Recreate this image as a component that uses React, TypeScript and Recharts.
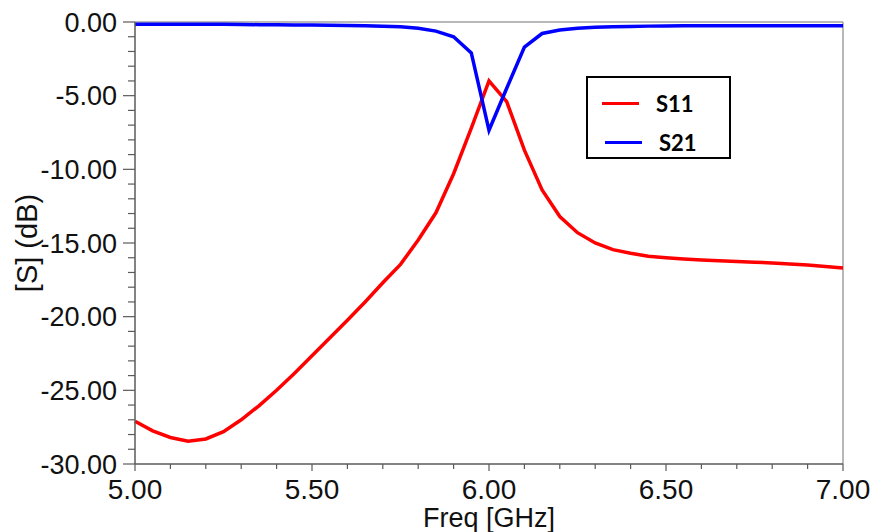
import React from "react";
import {
  LineChart,
  Line,
  XAxis,
  YAxis,
  Legend,
  ReferenceLine,
} from "recharts";

// frequency points (GHz)
const FREQ = [
  5.0, 5.05, 5.1, 5.15, 5.2, 5.25, 5.3, 5.35, 5.4, 5.45, 5.5, 5.55, 5.6, 5.65,
  5.7, 5.75, 5.8, 5.85, 5.9, 5.95, 6.0, 6.05, 6.1, 6.15, 6.2, 6.25, 6.3, 6.35,
  6.4, 6.45, 6.5, 6.55, 6.6, 6.65, 6.7, 6.75, 6.8, 6.85, 6.9, 6.95, 7.0,
];

// |S11| in dB
const S11 = [
  -27.1, -27.75, -28.2, -28.45, -28.3, -27.8, -27.0, -26.05, -25.0, -23.85,
  -22.65, -21.45, -20.25, -19.0, -17.7, -16.45, -14.8, -12.95, -10.3, -7.2,
  -4.0, -5.4, -8.7, -11.4, -13.2, -14.3, -15.0, -15.45, -15.7, -15.9, -16.0,
  -16.08, -16.15, -16.2, -16.25, -16.3, -16.35, -16.42, -16.5, -16.6, -16.7,
];

// |S21| in dB
const S21 = [
  -0.15, -0.15, -0.15, -0.15, -0.16, -0.16, -0.17, -0.18, -0.19, -0.2, -0.21,
  -0.22, -0.24, -0.26, -0.29, -0.33, -0.42, -0.62, -1.0, -2.1, -7.35, -4.5,
  -1.7, -0.78, -0.55, -0.43, -0.36, -0.32, -0.3, -0.28, -0.27, -0.26, -0.26,
  -0.25, -0.25, -0.25, -0.25, -0.25, -0.25, -0.25, -0.25,
];

// axis ticks (majors get labels, the rest are minor marks)
const X_TICKS = [
  5.0, 5.1, 5.2, 5.3, 5.4, 5.5, 5.6, 5.7, 5.8, 5.9, 6.0, 6.1, 6.2, 6.3, 6.4,
  6.5, 6.6, 6.7, 6.8, 6.9, 7.0,
];
const X_MAJOR = [5.0, 5.5, 6.0, 6.5, 7.0];
const Y_TICKS = [
  0, -1, -2, -3, -4, -5, -6, -7, -8, -9, -10, -11, -12, -13, -14, -15, -16,
  -17, -18, -19, -20, -21, -22, -23, -24, -25, -26, -27, -28, -29, -30,
];
const Y_MAJOR = [0, -5, -10, -15, -20, -25, -30];

const data = FREQ.map((f, i) => ({ f, s11: S11[i], s21: S21[i] }));

const FONT = "'Liberation Sans', Arial, sans-serif";
const AXIS_COLOR = "#5a5a5a";

const isMajor = (list: number[], v: number) =>
  list.some((m) => Math.abs(m - v) < 1e-6);

const YTick = (props: any) => {
  const { x, y, payload } = props;
  const major = isMajor(Y_MAJOR, payload.value);
  return (
    <g>
      <line
        x1={x - (major ? 12 : 7)}
        x2={x}
        y1={y}
        y2={y}
        stroke={AXIS_COLOR}
        strokeWidth={1.2}
      />
      {major && (
        <text
          x={x - 18}
          y={y}
          dy="0.36em"
          textAnchor="end"
          fill="#111"
          fontSize={27}
          fontFamily={FONT}
        >
          {payload.value.toFixed(2)}
        </text>
      )}
    </g>
  );
};

const XTick = (props: any) => {
  const { x, y, payload } = props;
  const major = isMajor(X_MAJOR, payload.value);
  return (
    <g>
      <line
        x1={x}
        x2={x}
        y1={y}
        y2={y + (major ? 7 : 5)}
        stroke={AXIS_COLOR}
        strokeWidth={1.2}
      />
      {major && (
        <text
          x={x}
          y={y + 35}
          textAnchor="middle"
          fill="#111"
          fontSize={28}
          fontFamily={FONT}
        >
          {payload.value.toFixed(2)}
        </text>
      )}
    </g>
  );
};

const LegendBox = (props: any) => {
  const { payload } = props;
  return (
    <div
      style={{
        width: 145,
        height: 83,
        boxSizing: "border-box",
        border: "2.5px solid #000",
        background: "#fff",
        paddingTop: 13,
      }}
    >
      {(payload || []).map((entry: any, i: number) => (
        <div
          key={entry.value}
          style={{
            display: "flex",
            alignItems: "center",
            height: 24,
            marginBottom: i === 0 ? 15 : 0,
            marginLeft: i === 0 ? 14 : 17,
          }}
        >
          <div
            style={{ width: 37, height: 3, background: entry.color, marginRight: 17 }}
          />
          <span
            style={{
              fontFamily: "Lato, 'Liberation Sans', sans-serif",
              fontWeight: 700,
              fontSize: 22,
              color: "#000",
            }}
          >
            {entry.value}
          </span>
        </div>
      ))}
    </div>
  );
};

export default function App() {
  return (
    <div style={{ position: "absolute", left: 0, top: 0, background: "#fff" }}>
      <LineChart
        width={873}
        height={532}
        data={data}
        margin={{ top: 22, right: 30, bottom: 0, left: 0 }}
      >
        <XAxis
          dataKey="f"
          type="number"
          domain={[5, 7]}
          ticks={X_TICKS}
          interval={0}
          height={68}
          tickSize={0}
          tickMargin={0}
          tick={<XTick />}
          stroke={AXIS_COLOR}
          strokeWidth={1.5}
          label={{
            value: "Freq [GHz]",
            position: "insideBottom",
            offset: 5,
            fill: "#111",
            fontSize: 27,
            fontFamily: FONT,
          }}
        />
        <YAxis
          type="number"
          domain={[-30, 0]}
          ticks={Y_TICKS}
          interval={0}
          width={135}
          tickSize={0}
          tickMargin={0}
          tick={<YTick />}
          stroke={AXIS_COLOR}
          strokeWidth={1.5}
          label={{
            value: "[S]  (dB)",
            angle: -90,
            position: "insideLeft",
            offset: 27,
            fill: "#111",
            fontSize: 29,
            fontFamily: FONT,
            style: { textAnchor: "middle" },
          }}
        />
        <ReferenceLine y={0} stroke="#a0a0a0" strokeWidth={1.5} />
        <ReferenceLine x={7} stroke="#a0a0a0" strokeWidth={1.5} />
        <Legend
          layout="horizontal"
          verticalAlign="middle"
          align="center"
          content={<LegendBox />}
          wrapperStyle={{ left: 586, top: 76, width: 145, height: 83 }}
        />
        <Line
          type="linear"
          dataKey="s11"
          name="S11"
          stroke="#ff0000"
          strokeWidth={3.5}
          dot={false}
          isAnimationActive={false}
        />
        <Line
          type="linear"
          dataKey="s21"
          name="S21"
          stroke="#0000ff"
          strokeWidth={3.5}
          dot={false}
          isAnimationActive={false}
        />
      </LineChart>
    </div>
  );
}
